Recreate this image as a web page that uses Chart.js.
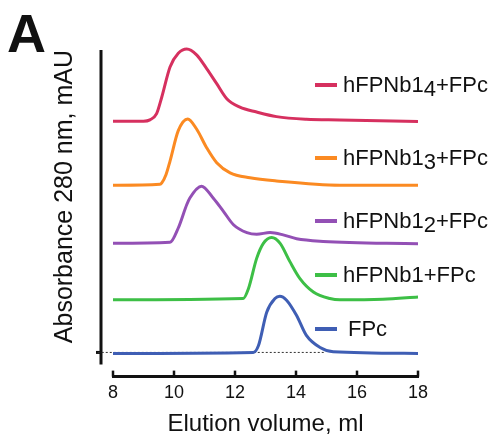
<!DOCTYPE html>
<html>
<head>
<meta charset="utf-8">
<title>Elution profiles</title>
<script src="https://cdn.jsdelivr.net/npm/chart.js@4"></script>
<style>
  html, body { margin: 0; padding: 0; background: #fff; }
  #wrap { position: relative; width: 496px; height: 439px; font-family: "Liberation Sans", Arial, sans-serif; color: #111; }
  #sec { display: block; }
  #panel { position: absolute; left: 7px; top: 3px; font-size: 54px; font-weight: bold; line-height: 60px; }
  .key { position: absolute; left: 315px; width: 22px; height: 4px; }
  .lbl { position: absolute; font-size: 22px; line-height: 26px; white-space: nowrap; }
  .lbl .sub { position: relative; top: 4px; }
</style>
</head>
<body>
<div id="wrap">
  <canvas id="sec" width="496" height="439"></canvas>
  <div id="panel">A</div>
  <div id="legend"></div>
</div>
<script>
// series, top to bottom in the stack
const seriesNames = ["hFPNb1", "hFPNb1", "hFPNb1", "hFPNb1", "FPc"];
const seriesSubs = ["4", "3", "2", "", ""];
const seriesTails = ["+FPc", "+FPc", "+FPc", "+FPc", ""];
const seriesColors = ["#d6305f", "#fb8a22", "#9350b5", "#3dbf46", "#3f5eb4"];

// elution volume (ml) and stacked absorbance (mAU, offset per trace)
const nb14Vol = [8.0, 9.0, 9.21, 9.43, 9.60, 9.87, 10.14, 10.42, 10.74, 11.07, 11.40, 11.73, 12.16, 12.71, 13.36, 14.34, 15.44, 18.0];
const nb14Abs = [71.2, 71.2, 71.6, 73.5, 78.6, 87.8, 92.0, 93.3, 91.5, 87.3, 82.7, 78.1, 75.5, 74.0, 72.6, 71.8, 71.6, 71.1];

const nb13Vol = [8.0, 9.54, 9.60, 9.74, 9.87, 10.14, 10.45, 10.74, 11.07, 11.40, 11.84, 12.49, 13.36, 15.44, 18.0];
const nb13Abs = [51.6, 51.9, 52.3, 54.9, 59.0, 68.3, 71.9, 68.8, 63.1, 58.5, 55.4, 53.9, 52.9, 51.6, 51.6];

const nb12Vol = [8.0, 9.87, 10.14, 10.42, 10.52, 10.9, 11.29, 11.62, 11.95, 12.39, 12.71, 13.15, 13.58, 14.02, 14.89, 18.0];
const nb12Abs = [33.8, 34.1, 38.5, 45.7, 47.7, 51.3, 47.6, 43.6, 39.5, 37.1, 36.6, 37.1, 36.4, 35.2, 34.4, 33.7];

const nb1Vol = [8.0, 12.27, 12.44, 12.71, 12.93, 13.2, 13.48, 13.8, 14.13, 14.57, 15.11, 15.44, 16.85, 18.0];
const nb1Abs = [16.5, 16.9, 19.9, 29.2, 33.8, 35.6, 33.8, 28.2, 23.0, 18.9, 16.9, 16.5, 16.7, 17.4];

const fpcVol = [8.0, 12.6, 12.77, 13.04, 13.31, 13.47, 13.69, 14.02, 14.34, 14.79, 15.22, 18.0];
const fpcAbs = [0.1, 0.4, 2.5, 12.7, 16.9, 17.6, 16.4, 11.7, 5.6, 1.9, 0.6, 0.1];

// dotted zero line under FPc
const baseVol = [7.5, 14.95];
const baseAbs = [0.4, 0.4];

const xTicks = [8, 10, 12, 14, 16, 18];

const seriesVol = [nb14Vol, nb13Vol, nb12Vol, nb1Vol, fpcVol];
const seriesAbs = [nb14Abs, nb13Abs, nb12Abs, nb1Abs, fpcAbs];

// legend rows sit beside their traces
const legendY = [85, 158, 221, 275, 329];
const legendIndent = [0, 0, 0, 0, 5];

function toPoints(xs, ys) {
    return xs.map((v, i) => ({ x: v, y: ys[i] }));
}

const datasets = seriesNames.map((name, i) => ({
    label: name + seriesSubs[i] + seriesTails[i],
    data: toPoints(seriesVol[i], seriesAbs[i]),
    borderColor: seriesColors[i],
    borderWidth: 3,
    pointRadius: 0,
    cubicInterpolationMode: "monotone",
    fill: false,
    clip: false,
}));

datasets.push({
    label: "baseline",
    data: toPoints(baseVol, baseAbs),
    borderColor: "#333",
    borderWidth: 1,
    borderDash: [2, 2],
    pointRadius: 0,
    fill: false,
    clip: false,
});

// axes are drawn by hand: y line stands off the data, x ticks point up
const axisLines = {
    id: "axisLines",
    beforeDatasetsDraw(chart) {
        const { ctx, chartArea, scales: { x, y } } = chart;
        ctx.save();
        ctx.strokeStyle = "#111";
        ctx.lineWidth = 3;

        let yx = chartArea.left - 12;
        ctx.beginPath();
        ctx.moveTo(yx, chartArea.top);
        ctx.lineTo(yx, chartArea.bottom - 12);
        ctx.stroke();

        let by = y.getPixelForValue(baseAbs[0]);
        ctx.beginPath();
        ctx.moveTo(yx - 5, by);
        ctx.lineTo(yx, by);
        ctx.stroke();

        let ay = chartArea.bottom;
        ctx.beginPath();
        ctx.moveTo(x.getPixelForValue(xTicks[0]) - 1, ay);
        ctx.lineTo(x.getPixelForValue(xTicks[xTicks.length - 1]) + 1, ay);
        ctx.stroke();

        ctx.lineWidth = 2.5;
        xTicks.forEach(t => {
            let px = x.getPixelForValue(t);
            ctx.beginPath();
            ctx.moveTo(px, ay);
            ctx.lineTo(px, ay - 6);
            ctx.stroke();
        });
        ctx.restore();
    }
};

const font = "'Liberation Sans', Arial, sans-serif";

new Chart(document.getElementById("sec").getContext("2d"), {
    type: "line",
    data: { datasets: datasets },
    options: {
        responsive: false,
        animation: false,
        events: [],
        layout: { padding: { left: 40, right: 78, top: 50, bottom: 0 } },
        plugins: { legend: { display: false }, tooltip: { enabled: false } },
        scales: {
            x: {
                type: "linear",
                min: 8,
                max: 18,
                grid: { display: false, drawTicks: false },
                border: { display: false },
                afterBuildTicks: axis => { axis.ticks = xTicks.map(v => ({ value: v })); },
                ticks: { padding: 6, maxRotation: 0, color: "#111", font: { family: font, size: 18 } },
                title: {
                    display: true,
                    text: "Elution volume, ml",
                    color: "#111",
                    font: { family: font, size: 24, lineHeight: 1.2 },
                    padding: { top: 0, bottom: 0 }
                }
            },
            y: {
                min: -7,
                max: 93,
                grid: { display: false, drawTicks: false },
                border: { display: false },
                ticks: { display: false },
                title: {
                    display: true,
                    text: "Absorbance 280 nm, mAU",
                    align: "end",
                    color: "#111",
                    font: { family: font, size: 25 },
                    padding: { top: 10, bottom: 33 }
                }
            }
        }
    },
    plugins: [axisLines]
});

// legend beside the traces
const legend = document.getElementById("legend");
seriesNames.forEach((name, i) => {
    let key = document.createElement("div");
    key.className = "key";
    key.style.top = (legendY[i] - 2) + "px";
    key.style.background = seriesColors[i];
    legend.appendChild(key);

    let lbl = document.createElement("div");
    lbl.className = "lbl";
    lbl.style.left = (343 + legendIndent[i]) + "px";
    lbl.style.top = (legendY[i] - 13) + "px";
    lbl.appendChild(document.createTextNode(name));
    if (seriesSubs[i]) {
        let sub = document.createElement("span");
        sub.className = "sub";
        sub.textContent = seriesSubs[i];
        lbl.appendChild(sub);
    }
    lbl.appendChild(document.createTextNode(seriesTails[i]));
    legend.appendChild(lbl);
});
</script>
</body>
</html>
